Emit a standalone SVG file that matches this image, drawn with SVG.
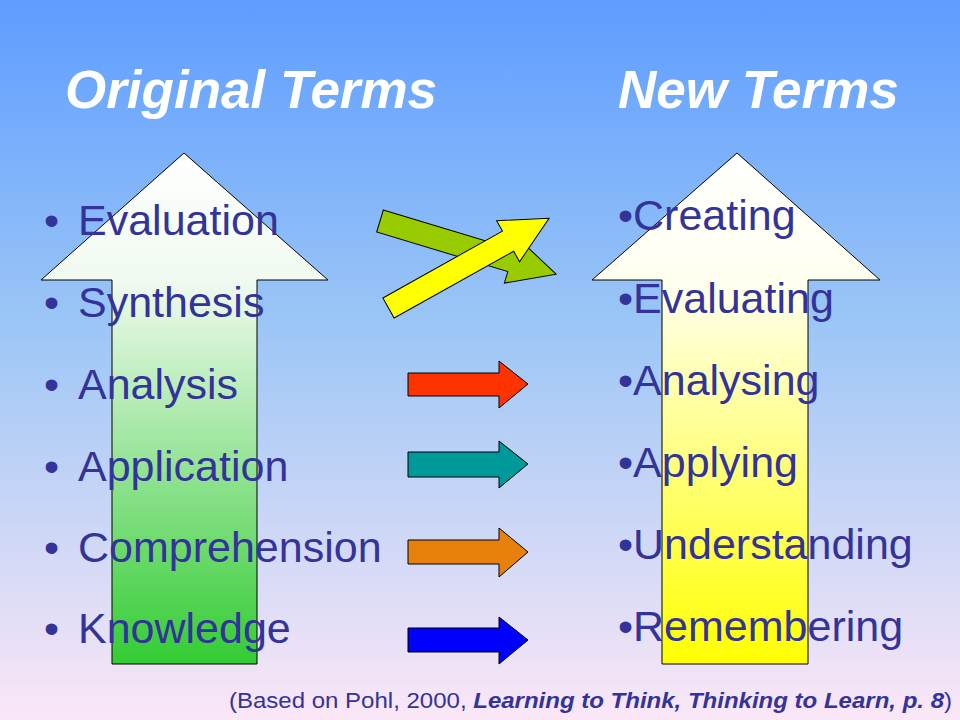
<svg xmlns="http://www.w3.org/2000/svg" width="960" height="720" viewBox="0 0 960 720">
<defs>
<linearGradient id="bg" x1="0" y1="0" x2="0" y2="1">
<stop offset="0" stop-color="#5e9dff"/>
<stop offset="0.45" stop-color="#9cc6f6"/>
<stop offset="1" stop-color="#fbe7f7"/>
</linearGradient>
<linearGradient id="gG" gradientUnits="userSpaceOnUse" x1="0" y1="153" x2="0" y2="664">
<stop offset="0" stop-color="#ffffff"/>
<stop offset="0.25" stop-color="#f0faf0"/>
<stop offset="1" stop-color="#33cc33"/>
</linearGradient>
<linearGradient id="gY" gradientUnits="userSpaceOnUse" x1="0" y1="153" x2="0" y2="664">
<stop offset="0" stop-color="#ffffff"/>
<stop offset="0.25" stop-color="#fffff0"/>
<stop offset="1" stop-color="#ffff00"/>
</linearGradient>
<path id="diag" d="M0,-11.5 L137,-11.5 L137,-23.5 L184,0 L137,23.5 L137,11.5 L0,11.5 Z"/>
<style>
.st{stroke:#000;stroke-width:1}
.t{font-family:"Liberation Sans",Arial,sans-serif;font-size:43px;fill:#333399}
.h{font-family:"Liberation Sans",Arial,sans-serif;font-size:53px;font-weight:bold;font-style:italic;fill:#ffffff}
.f{font-family:"Liberation Sans",Arial,sans-serif;font-size:22px;fill:#333399}
.bi{font-weight:bold;font-style:italic}
</style>
</defs>
<rect width="960" height="720" fill="url(#bg)"/>
<g id="left-arrow"><path class="st" fill="url(#gG)" d="M184,153 L328,280 L257,280 L257,664 L112,664 L112,280 L41,280 Z"/></g>
<g id="right-arrow"><path class="st" fill="url(#gY)" d="M737,153 L880,280 L808,280 L808,664 L662,664 L662,280 L592,280 Z"/></g>
<g id="connectors">
<use href="#diag" class="st" fill="#99cc00" transform="translate(380,221) rotate(16.8)"/>
<use href="#diag" class="st" fill="#ffff00" transform="translate(388.5,308) rotate(-29.2)"/>
<path class="st" fill="#ff3300" d="M408,373 L499,373 L499,361 L528,384 L499,408 L499,396 L408,396 Z"/>
<path class="st" fill="#009999" d="M408,452 L499,452 L499,441 L528,464 L499,488 L499,477 L408,477 Z"/>
<path class="st" fill="#e8800e" d="M408,540 L499,540 L499,528 L528,552 L499,577 L499,564 L408,564 Z"/>
<path class="st" fill="#0000ff" d="M408,628 L499,628 L499,617 L528,640 L499,664 L499,652 L408,652 Z"/>
</g>
<g id="titles">
<text class="h" x="65" y="108">Original Terms</text>
<text class="h" x="618" y="108">New Terms</text>
</g>
<g id="original-list" class="t">
<text x="44" y="235">•</text><text x="78" y="235">Evaluation</text>
<text x="44" y="317">•</text><text x="78" y="317">Synthesis</text>
<text x="44" y="399">•</text><text x="78" y="399">Analysis</text>
<text x="44" y="481">•</text><text x="78" y="481">Application</text>
<text x="44" y="562">•</text><text x="78" y="562">Comprehension</text>
<text x="44" y="643">•</text><text x="78" y="643">Knowledge</text>
</g>
<g id="new-list" class="t">
<text x="618" y="230">•Creating</text>
<text x="618" y="313">•Evaluating</text>
<text x="618" y="395">•Analysing</text>
<text x="618" y="477">•Applying</text>
<text x="618" y="559">•Understanding</text>
<text x="618" y="641">•Remembering</text>
</g>
<g id="footer">
<text class="f" x="229" y="708" textLength="723" lengthAdjust="spacingAndGlyphs">(Based on Pohl, 2000, <tspan class="bi">Learning to Think, Thinking to Learn, p. 8</tspan>)</text>
</g>
</svg>
